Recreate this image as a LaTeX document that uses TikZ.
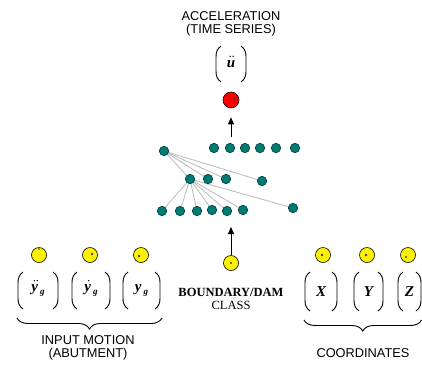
\documentclass[tikz,border=0pt]{standalone}
\usepackage{fontspec}
\setmainfont{Liberation Serif}
\newfontfamily\labfont{Liberation Sans}
\usetikzlibrary{arrows.meta,decorations.pathreplacing,backgrounds}

\definecolor{unitteal}{RGB}{0,122,116}
\definecolor{unitedge}{RGB}{0,60,56}

% a vector entry enclosed in tall drawn parentheses
% #1 name, #2 left x, #3 right x, #4 top y, #5 bottom y, #6 content
\newcommand\pargrp[6]{%
  \node[entry] (#1) at ({(#2+#3)/2},{(#4+#5)/2}) {#6};
  \draw[paren] ({#2+5},#4) .. controls ({#2+1},{#4+3}) and (#2,{#4+6}) .. (#2,{#4+11})
     -- (#2,{#5-11}) .. controls (#2,{#5-6}) and ({#2+1},{#5-3}) .. ({#2+5},#5);
  \draw[paren] ({#3-5},#4) .. controls ({#3-1},{#4+3}) and (#3,{#4+6}) .. (#3,{#4+11})
     -- (#3,{#5-11}) .. controls (#3,{#5-6}) and ({#3-1},{#5-3}) .. ({#3-5},#5);
}
\newcommand\sub[1]{\kern2pt\raisebox{-2.5pt}{\fontsize{9}{9}\selectfont #1}}

\begin{document}
\begin{tikzpicture}[x=1pt,y=-1pt,
  unit/.style={circle, draw=unitedge, fill=unitteal, line width=0.6pt, minimum size=9.5pt, inner sep=0pt},
  inp/.style={circle, draw=black, fill=yellow, line width=0.6pt, minimum size=15pt, inner sep=0pt},
  outp/.style={circle, draw=black, fill=red, line width=0.6pt, minimum size=16pt, inner sep=0pt},
  link/.style={draw=black!25, line width=0.9pt},
  arr/.style={-{Triangle[length=7pt,width=6pt]}, line width=0.9pt},
  paren/.style={line width=0.9pt},
  entry/.style={inner sep=0pt, font=\fontsize{15}{15}\selectfont\bfseries\itshape},
  lab/.style={align=center, inner sep=0pt, font=\labfont\fontsize{12.8}{12.8}\selectfont},
  brace/.style={decorate, decoration={brace, mirror, amplitude=11pt}, line width=0.9pt},
  spot/.style={fill=black!75},
  tdot/.style={fill=black}
]
\useasboundingbox (0,0) rectangle (422,365);

% output: acceleration time series
\node[lab] (acc) at (231,24) {ACCELERATION\\(TIME SERIES)};
\pargrp{u}{216}{246}{46}{82}{u}
\fill[tdot] ([shift={(-0.8,-4)}]u.north) circle (0.75);
\fill[tdot] ([shift={(2.2,-4)}]u.north) circle (0.75);
\node[outp] (out) at (231,100) {};
\fill[spot] ([shift={(4,-1)}]out.center) circle (1.3);
\coordinate (outbase) at (231,137);
\draw[arr] (outbase) -- (out) [shorten >=9pt];

% network units
\node[unit] (t1) at (214,148) {};
\node[unit] (t2) at (230,148) {};
\node[unit] (t3) at (245,148) {};
\node[unit] (t4) at (260,148) {};
\node[unit] (t5) at (276,148) {};
\node[unit] (t6) at (295,148) {};
\node[unit] (l1) at (164,151) {};
\node[unit] (m1) at (190,179) {};
\node[unit] (m2) at (208,179) {};
\node[unit] (m3) at (226,179) {};
\node[unit] (m4) at (262,181) {};
\node[unit] (b1) at (162,211) {};
\node[unit] (b2) at (180,211) {};
\node[unit] (b3) at (197,211) {};
\node[unit] (b4) at (212,210) {};
\node[unit] (b5) at (227,211) {};
\node[unit] (b6) at (243,210) {};
\node[unit] (b7) at (293,208) {};

\begin{scope}[on background layer]
  \foreach \n in {m1,m2,m3,m4} \draw[link] (l1.center) -- (\n.center);
  \foreach \n in {b1,b2,b3,b4,b5,b6,b7} \draw[link] (m1.center) -- (\n.center);
\end{scope}

% boundary / dam class input
\node[inp] (bd) at (231,263) {};
\fill[spot] (bd.center) circle (1.2);
\coordinate (netin) at (231,227);
\draw[arr] (bd) -- (netin);
\node[font=\fontsize{12.5}{13}\selectfont, align=center, inner sep=0pt] (cls) at (231,298.5)
  {\textbf{BOUNDARY/DAM}\\CLASS};

% input motion at the abutment
\node[inp] (ia) at (39,255) {};
\node[inp] (iv) at (90,255) {};
\node[inp] (id) at (141,255) {};
\fill[spot] ([shift={(0,-6)}]ia.center) circle (0.8);
\fill[spot] ([shift={(2,-1)}]iv.center) circle (1.3);
\fill[spot] ([shift={(-2,1)}]id.center) circle (1.3);
\pargrp{ya}{18}{58}{272}{309}{y\sub{g}}
\pargrp{yv}{72}{110}{272}{309}{y\sub{g}}
\pargrp{yd}{123}{160}{272}{309}{y\sub{g}}
% derivative dots over the y's
\fill[tdot] ([shift={(-3.6,-4)}]ya.north) circle (0.75);
\fill[tdot] ([shift={(-0.8,-4)}]ya.north) circle (0.75);
\fill[tdot] ([shift={(-2.2,-4)}]yv.north) circle (0.75);
\coordinate (lbA) at (17,318);
\coordinate (lbB) at (162,318);
\draw[brace] (lbA) -- (lbB);
\node[lab] (im) at (88,348) {INPUT MOTION\\(ABUTMENT)};

% coordinates
\node[inp] (cx) at (323,255) {};
\node[inp] (cy) at (367,255) {};
\node[inp] (cz) at (408,255) {};
\fill[spot] ([shift={(-1,0)}]cx.center) circle (1.3);
\fill[spot] ([shift={(-1,0)}]cy.center) circle (1.3);
\fill[spot] ([shift={(-2,2)}]cz.center) circle (1.2);
\pargrp{px}{305}{337}{272}{311}{X}
\pargrp{py}{354}{383}{272}{311}{Y}
\pargrp{pz}{398}{421}{272}{311}{Z}
\coordinate (rbA) at (304,320);
\coordinate (rbB) at (421.5,320);
\draw[brace] (rbA) -- (rbB);
\node[lab] (co) at (363,353) {COORDINATES};
\end{tikzpicture}
\end{document}
